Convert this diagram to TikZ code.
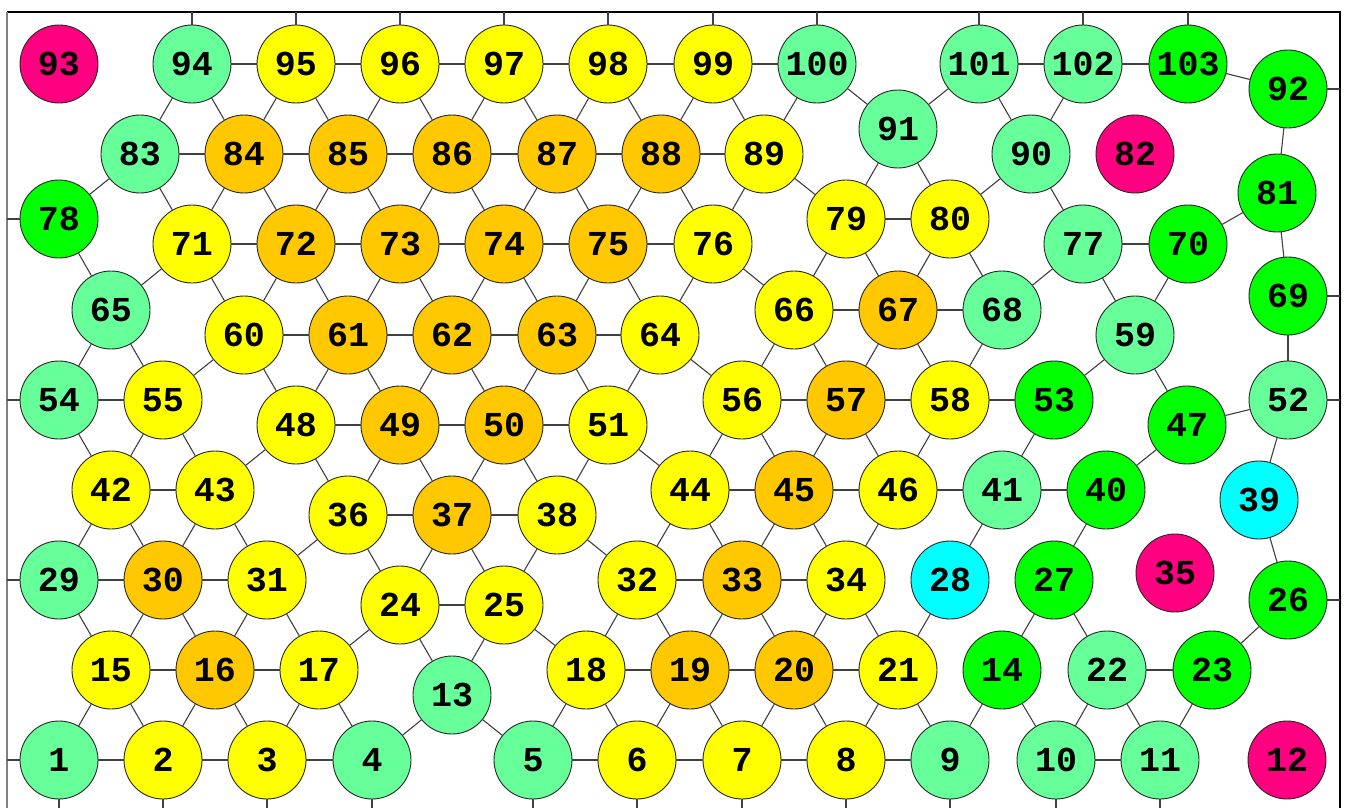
\documentclass[tikz,border=0pt]{standalone}
\usepackage{fontspec}
\usepackage{tikz}
\usepackage{xcolor}
\newfontfamily\vertexfont{Liberation Mono}
\definecolor{mint}{HTML}{66FF99}
\definecolor{lime}{HTML}{00FF00}
\definecolor{rose}{HTML}{FF0080}
\definecolor{aqua}{HTML}{00FFFF}
\definecolor{amber}{HTML}{FFC800}
\definecolor{lemon}{HTML}{FFFF00}

\begin{document}
\begin{tikzpicture}[x=1pt,y=-1pt,
    vertex/.style={circle,draw=black!85,line width=0.9pt,minimum size=78pt,inner sep=0pt,
        font=\vertexfont\bfseries\fontsize{35}{38}\selectfont},
    mintv/.style={vertex,fill=mint},
    limev/.style={vertex,fill=lime},
    rosev/.style={vertex,fill=rose},
    aquav/.style={vertex,fill=aqua},
    amberv/.style={vertex,fill=amber},
    lemonv/.style={vertex,fill=lemon},
    edge/.style={line width=1.1pt,black!75}
]
\useasboundingbox (0,0) rectangle (1347,808);
% frame
\draw[line width=1.2pt] (7,12) -- (1340,12) -- (1340,808);
\draw[line width=2pt,black!50] (7,12) -- (7,808);
% vertices
\foreach \n/\x/\y in {1/59/760,4/372/760,5/533/760,9/950/760,10/1056/760,11/1160/760,13/452/695,
    22/1107/670,29/59/580,41/1002/490,52/1288/400,54/59/400,59/1135/335,65/111/310,68/1002/310,
    77/1083/244,83/140/154,90/1031/154,91/898/129,94/192/64,100/817/64,101/979/64,102/1083/64}
    \node[mintv] (n\n) at (\x,\y) {\n};
\foreach \n/\x/\y in {14/1002/670,23/1212/670,26/1288/600,27/1054/580,40/1106/490,47/1187/425,
    53/1054/400,69/1288/296,70/1188/244,78/59/219,81/1277/193,92/1288/89,103/1188/64}
    \node[limev] (n\n) at (\x,\y) {\n};
\foreach \n/\x/\y in {12/1287/760,35/1175/573,82/1135/154,93/59/64}
    \node[rosev] (n\n) at (\x,\y) {\n};
\foreach \n/\x/\y in {28/950/580,39/1259/500}
    \node[aquav] (n\n) at (\x,\y) {\n};
\foreach \n/\x/\y in {16/215/670,19/690/670,20/794/670,30/163/580,33/742/580,37/452/515,
    45/794/490,49/400/425,50/504/425,57/846/400,61/348/335,62/452/335,63/557/335,67/898/310,
    72/296/244,73/400/244,74/504/244,75/608/244,84/244/154,85/348/154,86/452/154,87/557/154,88/661/154}
    \node[amberv] (n\n) at (\x,\y) {\n};
\foreach \n/\x/\y in {2/163/760,3/267/760,6/637/760,7/742/760,8/846/760,15/111/670,17/319/670,
    18/586/670,21/898/670,24/400/605,25/504/605,31/267/580,32/637/580,34/846/580,36/348/515,
    38/557/515,42/111/490,43/215/490,44/690/490,46/898/490,48/296/425,51/608/425,55/163/400,
    56/742/400,58/950/400,60/244/335,64/660/335,66/794/310,71/192/244,76/713/244,79/846/219,
    80/950/219,89/764/154,95/296/64,96/400/64,97/504/64,98/608/64,99/713/64}
    \node[lemonv] (n\n) at (\x,\y) {\n};
% ends on the frame
\foreach \n in {94,...,103}
    \coordinate (t\n) at (n\n |- 0,12);
\foreach \n in {1,...,11}
    \coordinate (b\n) at (n\n |- 0,808);
\foreach \n in {78,54,29,1}
    \coordinate (l\n) at (n\n -| 7,0);
\foreach \n in {92,69,52,26}
    \coordinate (r\n) at (n\n -| 1340,0);
\foreach \n in {94,...,103}
    \draw[edge] (n\n) -- (t\n);
\foreach \n in {1,...,11}
    \draw[edge] (n\n) -- (b\n);
\foreach \n in {78,54,29,1}
    \draw[edge] (n\n) -- (l\n);
\foreach \n in {92,69,52,26}
    \draw[edge] (n\n) -- (r\n);
% rows
\foreach \a/\b in {1/2,2/3,3/4,5/6,6/7,7/8,8/9,10/11,15/16,16/17,18/19,19/20,20/21,22/23,
    29/30,30/31,24/25,32/33,33/34,42/43,36/37,37/38,44/45,45/46,46/41,41/40,
    54/55,48/49,49/50,50/51,56/57,57/58,58/53,47/52,60/61,61/62,62/63,63/64,66/67,67/68,
    71/72,72/73,73/74,74/75,75/76,79/80,77/70,83/84,84/85,85/86,86/87,87/88,88/89,
    94/95,95/96,96/97,97/98,98/99,99/100,101/102,102/103}
    \draw[edge] (n\a) -- (n\b);
% slants
\foreach \a/\b in {1/15,2/15,2/16,3/16,3/17,4/17,4/13,5/13,5/18,6/18,6/19,7/19,7/20,8/20,
    8/21,9/21,9/14,10/14,10/22,11/22,11/23,13/24,13/25,17/24,15/29,15/30,16/30,16/31,17/31,
    18/25,18/32,19/32,19/33,20/33,20/34,21/34,21/28,14/27,22/27,23/26,
    29/42,30/42,30/43,31/43,31/36,24/36,24/37,25/37,25/38,32/38,32/44,33/44,33/45,34/45,
    34/46,28/41,27/40,26/39,42/54,42/55,43/55,43/48,36/48,36/49,37/49,37/50,38/50,38/51,
    44/51,44/56,45/56,45/57,46/57,46/58,41/53,40/47,39/52}
    \draw[edge] (n\a) -- (n\b);
\foreach \a/\b in {54/65,55/65,55/60,48/60,48/61,49/61,49/62,50/62,50/63,51/63,51/64,56/64,
    56/66,57/66,57/67,58/67,58/68,53/59,47/59,52/69,65/71,65/78,60/71,60/72,61/72,61/73,
    62/73,62/74,63/74,63/75,64/75,64/76,66/76,66/79,67/79,67/80,68/80,68/77,59/77,59/70,
    69/81,78/83,71/83,71/84,72/84,72/85,73/85,73/86,74/86,74/87,75/87,75/88,76/88,76/89,
    79/89,79/91,80/91,80/90,77/90,70/81,83/94,84/94,84/95,85/95,85/96,86/96,86/97,87/97,
    87/98,88/98,88/99,89/99,89/100,91/100,91/101,90/101,90/102,81/92,92/103}
    \draw[edge] (n\a) -- (n\b);
\end{tikzpicture}
\end{document}
